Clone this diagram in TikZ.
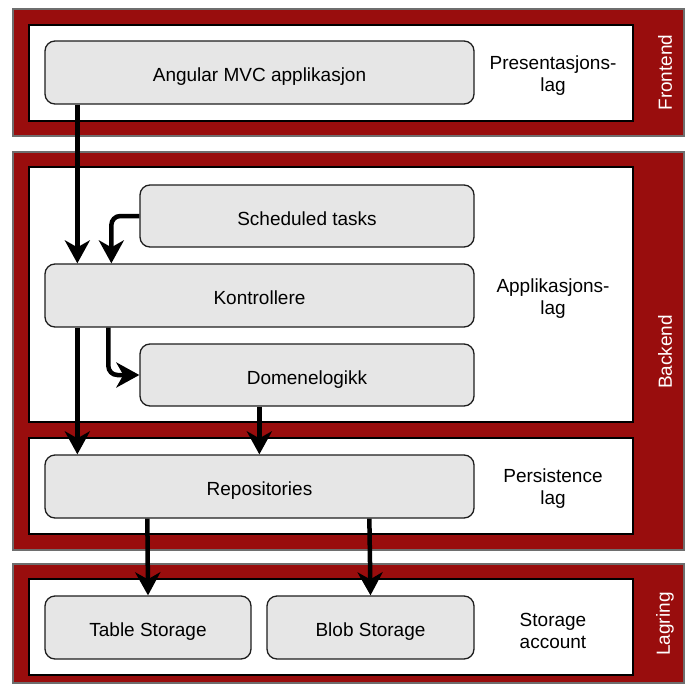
\documentclass[tikz,border=0pt]{standalone}
\usepackage{fontspec}
\setmainfont{Liberation Sans}
\usetikzlibrary{arrows.meta}
\definecolor{bandred}{RGB}{153,13,13}
\definecolor{bandedge}{RGB}{110,110,110}
\definecolor{boxfill}{RGB}{230,230,230}
\definecolor{boxedge}{RGB}{30,30,30}
\tikzset{
  band/.style={fill=bandred, draw=bandedge, line width=1.5pt},
  layer/.style={fill=white, draw=black, line width=1.5pt},
  comp/.style={draw=boxedge, fill=boxfill, line width=1.3pt, rounded corners=10pt,
    minimum height=63pt, inner sep=0pt, text height=18pt, text depth=0pt,
    font=\fontsize{19}{22}\selectfont},
  layerlabel/.style={align=center, font=\fontsize{19}{22}\selectfont, inner sep=0pt},
  bandlabel/.style={rotate=90, text=white, font=\fontsize{19}{22}\selectfont, inner sep=0pt},
  arr/.style={line width=4.5pt, -{Stealth[length=23pt, width=25pt, inset=7pt]}},
}
\begin{document}
\begin{tikzpicture}[x=1pt, y=-1pt]
\useasboundingbox (0,0) rectangle (685,686);

% coloured tiers
\draw[band] (13,9) rectangle (684,136);
\draw[band] (13,152) rectangle (684,550);
\draw[band] (13,564) rectangle (684,683);

% white layer panels
\draw[layer] (29,25) rectangle (633,121);
\draw[layer] (29,167) rectangle (633,422);
\draw[layer] (29,438) rectangle (633,534);
\draw[layer] (29,579) rectangle (633,675);

% tier names
\node[bandlabel] (fe) at (665,72.5) {Frontend};
\node[bandlabel] (be) at (665,352) {Backend};
\node[bandlabel] (lg) at (665,624) {Lagring};

% layer names
\node[layerlabel] (lp) at (553,76) {Presentasjons-\\lag};
\node[layerlabel] (la) at (553,298.5) {Applikasjons-\\lag};
\node[layerlabel] (lpe) at (553,489) {Persistence\\lag};
\node[layerlabel] (ls) at (553,630.5) {Storage\\account};

% components
\node[comp, minimum width=429pt] (ang) at (259.5,72.5) {Angular MVC applikasjon};
\node[comp, minimum width=334pt, minimum height=62pt] (sched) at (307,216) {Scheduled tasks};
\node[comp, minimum width=429pt] (ctrl) at (259.5,295.5) {Kontrollere};
\node[comp, minimum width=334pt, minimum height=62pt] (dom) at (307,375) {Domenelogikk};
\node[comp, minimum width=429pt] (repo) at (259.5,486.5) {Repositories};
\node[comp, minimum width=206pt] (tab) at (148,627.5) {Table Storage};
\node[comp, minimum width=207pt] (blob) at (370.5,627.5) {Blob Storage};

% dependencies
\draw[arr] ([xshift=33pt]ang.south west) -- ([xshift=33pt]ctrl.north west);
\draw[arr, rounded corners=9pt] (sched.west) -| ([xshift=67pt]ctrl.north west);
\draw[arr, rounded corners=9pt] ([xshift=64pt]ctrl.south west) |- (dom.west);
\draw[arr] ([xshift=33pt]ctrl.south west) -- ([xshift=33pt]repo.north west);
\draw[arr] ([xshift=120pt]dom.south west) -- ([xshift=215pt]repo.north west);
\draw[arr] ([xshift=103pt]repo.south west) -- (tab.north);
\draw[arr] ([xshift=325pt]repo.south west) -- (blob.north);
\end{tikzpicture}
\end{document}
